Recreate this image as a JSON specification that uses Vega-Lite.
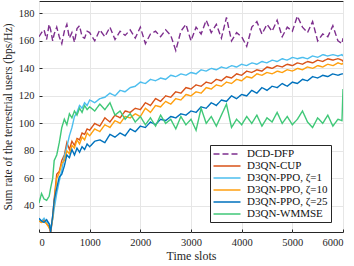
{
  "$schema": "https://vega.github.io/schema/vega-lite/v6.json",
  "width": 304,
  "height": 231,
  "autosize": {"type": "none"},
  "padding": {"left": 39, "top": 1, "right": 11, "bottom": 34},
  "background": "white",
  "config": {
    "font": "Liberation Serif",
    "view": {"stroke": "#262626", "strokeWidth": 1},
    "axis": {
      "labelFont": "Liberation Serif",
      "labelFontSize": 10.5,
      "labelColor": "#262626",
      "titleFont": "Liberation Serif",
      "titleFontSize": 12,
      "titleFontWeight": "normal",
      "titleColor": "#262626",
      "gridColor": "#e6e6e6",
      "gridWidth": 1,
      "domain": false,
      "tickColor": "#262626",
      "tickSize": -3
    },
    "legend": {
      "orient": "none",
      "legendX": 171,
      "legendY": 144,
      "fillColor": "white",
      "strokeColor": "#262626",
      "padding": 3,
      "labelFont": "Liberation Serif",
      "labelFontSize": 11,
      "labelColor": "#111111",
      "labelOffset": 14,
      "symbolOffset": 8,
      "rowPadding": 1,
      "symbolType": "M-2.7,0H2.7",
      "symbolSize": 100,
      "symbolStrokeWidth": 1.6
    }
  },
  "data": {
    "values": [
      {"t":0,"DCD-DFP":163,"D3QN-CUP":29,"D3QN-PPO, ζ=1":30,"D3QN-PPO, ζ=10":29,"D3QN-PPO, ζ=25":31,"D3QN-WMMSE":42},
      {"t":50,"DCD-DFP":166,"D3QN-CUP":28,"D3QN-PPO, ζ=1":29,"D3QN-PPO, ζ=10":28,"D3QN-PPO, ζ=25":29,"D3QN-WMMSE":49},
      {"t":100,"DCD-DFP":168,"D3QN-CUP":30,"D3QN-PPO, ζ=1":31,"D3QN-PPO, ζ=10":29,"D3QN-PPO, ζ=25":28,"D3QN-WMMSE":45},
      {"t":150,"DCD-DFP":161,"D3QN-CUP":27,"D3QN-PPO, ζ=1":28,"D3QN-PPO, ζ=10":27,"D3QN-PPO, ζ=25":30,"D3QN-WMMSE":44},
      {"t":200,"DCD-DFP":172,"D3QN-CUP":25,"D3QN-PPO, ζ=1":27,"D3QN-PPO, ζ=10":24,"D3QN-PPO, ζ=25":27,"D3QN-WMMSE":47},
      {"t":230,"DCD-DFP":168,"D3QN-CUP":20,"D3QN-PPO, ζ=1":24,"D3QN-PPO, ζ=10":22,"D3QN-PPO, ζ=25":21,"D3QN-WMMSE":53},
      {"t":270,"DCD-DFP":160,"D3QN-CUP":32,"D3QN-PPO, ζ=1":30,"D3QN-PPO, ζ=10":31,"D3QN-PPO, ζ=25":33,"D3QN-WMMSE":60},
      {"t":300,"DCD-DFP":165,"D3QN-CUP":45,"D3QN-PPO, ζ=1":38,"D3QN-PPO, ζ=10":43,"D3QN-PPO, ζ=25":44,"D3QN-WMMSE":73},
      {"t":350,"DCD-DFP":170,"D3QN-CUP":63,"D3QN-PPO, ζ=1":49,"D3QN-PPO, ζ=10":60,"D3QN-PPO, ζ=25":53,"D3QN-WMMSE":77},
      {"t":400,"DCD-DFP":163,"D3QN-CUP":65,"D3QN-PPO, ζ=1":58,"D3QN-PPO, ζ=10":64,"D3QN-PPO, ζ=25":61,"D3QN-WMMSE":86},
      {"t":450,"DCD-DFP":158,"D3QN-CUP":73,"D3QN-PPO, ζ=1":66,"D3QN-PPO, ζ=10":71,"D3QN-PPO, ζ=25":63,"D3QN-WMMSE":97},
      {"t":500,"DCD-DFP":167,"D3QN-CUP":77,"D3QN-PPO, ζ=1":76,"D3QN-PPO, ζ=10":73,"D3QN-PPO, ζ=25":69,"D3QN-WMMSE":103},
      {"t":550,"DCD-DFP":172,"D3QN-CUP":86,"D3QN-PPO, ζ=1":83,"D3QN-PPO, ζ=10":80,"D3QN-PPO, ζ=25":77,"D3QN-WMMSE":99},
      {"t":600,"DCD-DFP":162,"D3QN-CUP":81,"D3QN-PPO, ζ=1":91,"D3QN-PPO, ζ=10":78,"D3QN-PPO, ζ=25":75,"D3QN-WMMSE":107},
      {"t":650,"DCD-DFP":166,"D3QN-CUP":87,"D3QN-PPO, ζ=1":97,"D3QN-PPO, ζ=10":84,"D3QN-PPO, ζ=25":81,"D3QN-WMMSE":104},
      {"t":700,"DCD-DFP":159,"D3QN-CUP":84,"D3QN-PPO, ζ=1":105,"D3QN-PPO, ζ=10":82,"D3QN-PPO, ζ=25":77,"D3QN-WMMSE":109},
      {"t":750,"DCD-DFP":169,"D3QN-CUP":89,"D3QN-PPO, ζ=1":108,"D3QN-PPO, ζ=10":88,"D3QN-PPO, ζ=25":82,"D3QN-WMMSE":106},
      {"t":800,"DCD-DFP":171,"D3QN-CUP":88,"D3QN-PPO, ζ=1":113,"D3QN-PPO, ζ=10":85,"D3QN-PPO, ζ=25":79,"D3QN-WMMSE":111},
      {"t":850,"DCD-DFP":163,"D3QN-CUP":93,"D3QN-PPO, ζ=1":111,"D3QN-PPO, ζ=10":90,"D3QN-PPO, ζ=25":83,"D3QN-WMMSE":108},
      {"t":900,"DCD-DFP":162,"D3QN-CUP":92,"D3QN-PPO, ζ=1":115,"D3QN-PPO, ζ=10":88,"D3QN-PPO, ζ=25":81,"D3QN-WMMSE":113},
      {"t":950,"DCD-DFP":167,"D3QN-CUP":96,"D3QN-PPO, ζ=1":113,"D3QN-PPO, ζ=10":93,"D3QN-PPO, ζ=25":85,"D3QN-WMMSE":110},
      {"t":1000,"DCD-DFP":166,"D3QN-CUP":95,"D3QN-PPO, ζ=1":117,"D3QN-PPO, ζ=10":91,"D3QN-PPO, ζ=25":83,"D3QN-WMMSE":112},
      {"t":1100,"DCD-DFP":160,"D3QN-CUP":100,"D3QN-PPO, ζ=1":115,"D3QN-PPO, ζ=10":96,"D3QN-PPO, ζ=25":87,"D3QN-WMMSE":109},
      {"t":1200,"DCD-DFP":168,"D3QN-CUP":98,"D3QN-PPO, ζ=1":118,"D3QN-PPO, ζ=10":94,"D3QN-PPO, ζ=25":88,"D3QN-WMMSE":114},
      {"t":1300,"DCD-DFP":163,"D3QN-CUP":104,"D3QN-PPO, ζ=1":119,"D3QN-PPO, ζ=10":99,"D3QN-PPO, ζ=25":86,"D3QN-WMMSE":110},
      {"t":1400,"DCD-DFP":170,"D3QN-CUP":101,"D3QN-PPO, ζ=1":122,"D3QN-PPO, ζ=10":97,"D3QN-PPO, ζ=25":92,"D3QN-WMMSE":115},
      {"t":1500,"DCD-DFP":161,"D3QN-CUP":106,"D3QN-PPO, ζ=1":120,"D3QN-PPO, ζ=10":102,"D3QN-PPO, ζ=25":90,"D3QN-WMMSE":106},
      {"t":1600,"DCD-DFP":167,"D3QN-CUP":104,"D3QN-PPO, ζ=1":124,"D3QN-PPO, ζ=10":100,"D3QN-PPO, ζ=25":93,"D3QN-WMMSE":109},
      {"t":1700,"DCD-DFP":164,"D3QN-CUP":109,"D3QN-PPO, ζ=1":123,"D3QN-PPO, ζ=10":105,"D3QN-PPO, ζ=25":91,"D3QN-WMMSE":103},
      {"t":1800,"DCD-DFP":168,"D3QN-CUP":108,"D3QN-PPO, ζ=1":126,"D3QN-PPO, ζ=10":104,"D3QN-PPO, ζ=25":96,"D3QN-WMMSE":107},
      {"t":1900,"DCD-DFP":162,"D3QN-CUP":111,"D3QN-PPO, ζ=1":127,"D3QN-PPO, ζ=10":107,"D3QN-PPO, ζ=25":94,"D3QN-WMMSE":101},
      {"t":2000,"DCD-DFP":170,"D3QN-CUP":110,"D3QN-PPO, ζ=1":130,"D3QN-PPO, ζ=10":105,"D3QN-PPO, ζ=25":98,"D3QN-WMMSE":105},
      {"t":2100,"DCD-DFP":158,"D3QN-CUP":115,"D3QN-PPO, ζ=1":129,"D3QN-PPO, ζ=10":111,"D3QN-PPO, ζ=25":97,"D3QN-WMMSE":99},
      {"t":2200,"DCD-DFP":165,"D3QN-CUP":113,"D3QN-PPO, ζ=1":132,"D3QN-PPO, ζ=10":108,"D3QN-PPO, ζ=25":101,"D3QN-WMMSE":104},
      {"t":2300,"DCD-DFP":167,"D3QN-CUP":118,"D3QN-PPO, ζ=1":131,"D3QN-PPO, ζ=10":113,"D3QN-PPO, ζ=25":99,"D3QN-WMMSE":98},
      {"t":2400,"DCD-DFP":163,"D3QN-CUP":116,"D3QN-PPO, ζ=1":133,"D3QN-PPO, ζ=10":112,"D3QN-PPO, ζ=25":103,"D3QN-WMMSE":106},
      {"t":2500,"DCD-DFP":168,"D3QN-CUP":120,"D3QN-PPO, ζ=1":132,"D3QN-PPO, ζ=10":116,"D3QN-PPO, ζ=25":102,"D3QN-WMMSE":100},
      {"t":2600,"DCD-DFP":164,"D3QN-CUP":119,"D3QN-PPO, ζ=1":135,"D3QN-PPO, ζ=10":114,"D3QN-PPO, ζ=25":105,"D3QN-WMMSE":103},
      {"t":2700,"DCD-DFP":153,"D3QN-CUP":123,"D3QN-PPO, ζ=1":134,"D3QN-PPO, ζ=10":118,"D3QN-PPO, ζ=25":104,"D3QN-WMMSE":96},
      {"t":2800,"DCD-DFP":167,"D3QN-CUP":122,"D3QN-PPO, ζ=1":136,"D3QN-PPO, ζ=10":117,"D3QN-PPO, ζ=25":107,"D3QN-WMMSE":105},
      {"t":2900,"DCD-DFP":172,"D3QN-CUP":126,"D3QN-PPO, ζ=1":135,"D3QN-PPO, ζ=10":121,"D3QN-PPO, ζ=25":106,"D3QN-WMMSE":99},
      {"t":3000,"DCD-DFP":160,"D3QN-CUP":125,"D3QN-PPO, ζ=1":137,"D3QN-PPO, ζ=10":120,"D3QN-PPO, ζ=25":109,"D3QN-WMMSE":103},
      {"t":3100,"DCD-DFP":170,"D3QN-CUP":128,"D3QN-PPO, ζ=1":136,"D3QN-PPO, ζ=10":123,"D3QN-PPO, ζ=25":108,"D3QN-WMMSE":95},
      {"t":3200,"DCD-DFP":165,"D3QN-CUP":127,"D3QN-PPO, ζ=1":139,"D3QN-PPO, ζ=10":122,"D3QN-PPO, ζ=25":112,"D3QN-WMMSE":111},
      {"t":3300,"DCD-DFP":175,"D3QN-CUP":130,"D3QN-PPO, ζ=1":138,"D3QN-PPO, ζ=10":126,"D3QN-PPO, ζ=25":111,"D3QN-WMMSE":100},
      {"t":3400,"DCD-DFP":166,"D3QN-CUP":129,"D3QN-PPO, ζ=1":140,"D3QN-PPO, ζ=10":125,"D3QN-PPO, ζ=25":115,"D3QN-WMMSE":105},
      {"t":3500,"DCD-DFP":172,"D3QN-CUP":132,"D3QN-PPO, ζ=1":139,"D3QN-PPO, ζ=10":128,"D3QN-PPO, ζ=25":113,"D3QN-WMMSE":98},
      {"t":3600,"DCD-DFP":162,"D3QN-CUP":131,"D3QN-PPO, ζ=1":141,"D3QN-PPO, ζ=10":127,"D3QN-PPO, ζ=25":117,"D3QN-WMMSE":106},
      {"t":3700,"DCD-DFP":177,"D3QN-CUP":134,"D3QN-PPO, ζ=1":140,"D3QN-PPO, ζ=10":130,"D3QN-PPO, ζ=25":116,"D3QN-WMMSE":114},
      {"t":3800,"DCD-DFP":160,"D3QN-CUP":133,"D3QN-PPO, ζ=1":142,"D3QN-PPO, ζ=10":129,"D3QN-PPO, ζ=25":120,"D3QN-WMMSE":97},
      {"t":3900,"DCD-DFP":166,"D3QN-CUP":136,"D3QN-PPO, ζ=1":141,"D3QN-PPO, ζ=10":132,"D3QN-PPO, ζ=25":118,"D3QN-WMMSE":103},
      {"t":4000,"DCD-DFP":163,"D3QN-CUP":135,"D3QN-PPO, ζ=1":143,"D3QN-PPO, ζ=10":131,"D3QN-PPO, ζ=25":121,"D3QN-WMMSE":99},
      {"t":4100,"DCD-DFP":156,"D3QN-CUP":138,"D3QN-PPO, ζ=1":142,"D3QN-PPO, ζ=10":134,"D3QN-PPO, ζ=25":120,"D3QN-WMMSE":105},
      {"t":4200,"DCD-DFP":170,"D3QN-CUP":137,"D3QN-PPO, ζ=1":144,"D3QN-PPO, ζ=10":133,"D3QN-PPO, ζ=25":124,"D3QN-WMMSE":100},
      {"t":4300,"DCD-DFP":174,"D3QN-CUP":139,"D3QN-PPO, ζ=1":143,"D3QN-PPO, ζ=10":136,"D3QN-PPO, ζ=25":122,"D3QN-WMMSE":106},
      {"t":4400,"DCD-DFP":165,"D3QN-CUP":138,"D3QN-PPO, ζ=1":145,"D3QN-PPO, ζ=10":135,"D3QN-PPO, ζ=25":126,"D3QN-WMMSE":98},
      {"t":4500,"DCD-DFP":172,"D3QN-CUP":141,"D3QN-PPO, ζ=1":144,"D3QN-PPO, ζ=10":137,"D3QN-PPO, ζ=25":124,"D3QN-WMMSE":104},
      {"t":4600,"DCD-DFP":167,"D3QN-CUP":140,"D3QN-PPO, ζ=1":146,"D3QN-PPO, ζ=10":136,"D3QN-PPO, ζ=25":127,"D3QN-WMMSE":101},
      {"t":4700,"DCD-DFP":175,"D3QN-CUP":142,"D3QN-PPO, ζ=1":145,"D3QN-PPO, ζ=10":138,"D3QN-PPO, ζ=25":126,"D3QN-WMMSE":108},
      {"t":4800,"DCD-DFP":163,"D3QN-CUP":141,"D3QN-PPO, ζ=1":147,"D3QN-PPO, ζ=10":137,"D3QN-PPO, ζ=25":129,"D3QN-WMMSE":100},
      {"t":4900,"DCD-DFP":170,"D3QN-CUP":143,"D3QN-PPO, ζ=1":146,"D3QN-PPO, ζ=10":139,"D3QN-PPO, ζ=25":127,"D3QN-WMMSE":105},
      {"t":5000,"DCD-DFP":167,"D3QN-CUP":142,"D3QN-PPO, ζ=1":148,"D3QN-PPO, ζ=10":138,"D3QN-PPO, ζ=25":130,"D3QN-WMMSE":99},
      {"t":5100,"DCD-DFP":178,"D3QN-CUP":144,"D3QN-PPO, ζ=1":147,"D3QN-PPO, ζ=10":140,"D3QN-PPO, ζ=25":129,"D3QN-WMMSE":103},
      {"t":5200,"DCD-DFP":170,"D3QN-CUP":143,"D3QN-PPO, ζ=1":148,"D3QN-PPO, ζ=10":139,"D3QN-PPO, ζ=25":132,"D3QN-WMMSE":109},
      {"t":5300,"DCD-DFP":166,"D3QN-CUP":145,"D3QN-PPO, ζ=1":147,"D3QN-PPO, ζ=10":141,"D3QN-PPO, ζ=25":131,"D3QN-WMMSE":101},
      {"t":5400,"DCD-DFP":174,"D3QN-CUP":144,"D3QN-PPO, ζ=1":149,"D3QN-PPO, ζ=10":140,"D3QN-PPO, ζ=25":134,"D3QN-WMMSE":97},
      {"t":5500,"DCD-DFP":160,"D3QN-CUP":146,"D3QN-PPO, ζ=1":148,"D3QN-PPO, ζ=10":142,"D3QN-PPO, ζ=25":133,"D3QN-WMMSE":104},
      {"t":5600,"DCD-DFP":165,"D3QN-CUP":145,"D3QN-PPO, ζ=1":150,"D3QN-PPO, ζ=10":141,"D3QN-PPO, ζ=25":135,"D3QN-WMMSE":100},
      {"t":5700,"DCD-DFP":163,"D3QN-CUP":147,"D3QN-PPO, ζ=1":149,"D3QN-PPO, ζ=10":143,"D3QN-PPO, ζ=25":134,"D3QN-WMMSE":106},
      {"t":5800,"DCD-DFP":171,"D3QN-CUP":146,"D3QN-PPO, ζ=1":150,"D3QN-PPO, ζ=10":142,"D3QN-PPO, ζ=25":136,"D3QN-WMMSE":98},
      {"t":5900,"DCD-DFP":160,"D3QN-CUP":147,"D3QN-PPO, ζ=1":149,"D3QN-PPO, ζ=10":144,"D3QN-PPO, ζ=25":135,"D3QN-WMMSE":103},
      {"t":5980,"DCD-DFP":158,"D3QN-CUP":146,"D3QN-PPO, ζ=1":150,"D3QN-PPO, ζ=10":143,"D3QN-PPO, ζ=25":136,"D3QN-WMMSE":102},
      {"t":6000,"DCD-DFP":162,"D3QN-CUP":145,"D3QN-PPO, ζ=1":149,"D3QN-PPO, ζ=10":144,"D3QN-PPO, ζ=25":136,"D3QN-WMMSE":125}
    ]
  },
  "transform": [
    {"fold": ["DCD-DFP", "D3QN-CUP", "D3QN-PPO, ζ=1", "D3QN-PPO, ζ=10", "D3QN-PPO, ζ=25", "D3QN-WMMSE"], "as": ["series", "rate"]}
  ],
  "mark": {"type": "line", "strokeWidth": 1.4, "clip": true},
  "encoding": {
    "x": {
      "field": "t", "type": "quantitative",
      "scale": {"domain": [0, 6000], "nice": false},
      "axis": {"title": "Time slots", "values": [0, 1000, 2000, 3000, 4000, 5000, 6000], "format": "d", "labelPadding": 8, "titlePadding": 3}
    },
    "y": {
      "field": "rate", "type": "quantitative",
      "scale": {"domain": [21, 189], "nice": false, "zero": false},
      "axis": {"title": "Sum rate of the terrestrial users (bps/Hz)", "values": [40, 60, 80, 100, 120, 140, 160, 180], "labelPadding": 8, "titlePadding": 5, "titleFontSize": 11.5}
    },
    "color": {
      "field": "series", "type": "nominal",
      "scale": {
        "domain": ["DCD-DFP", "D3QN-CUP", "D3QN-PPO, ζ=1", "D3QN-PPO, ζ=10", "D3QN-PPO, ζ=25", "D3QN-WMMSE"],
        "range": ["#7E2F8E", "#D95319", "#4DBEEE", "#FFA010", "#0072BD", "#40C878"]
      },
      "legend": {"title": null}
    },
    "strokeDash": {
      "field": "series", "type": "nominal",
      "scale": {
        "domain": ["DCD-DFP", "D3QN-CUP", "D3QN-PPO, ζ=1", "D3QN-PPO, ζ=10", "D3QN-PPO, ζ=25", "D3QN-WMMSE"],
        "range": [[6, 3], [1, 0], [1, 0], [1, 0], [1, 0], [1, 0]]
      },
      "legend": {"title": null}
    }
  }
}
